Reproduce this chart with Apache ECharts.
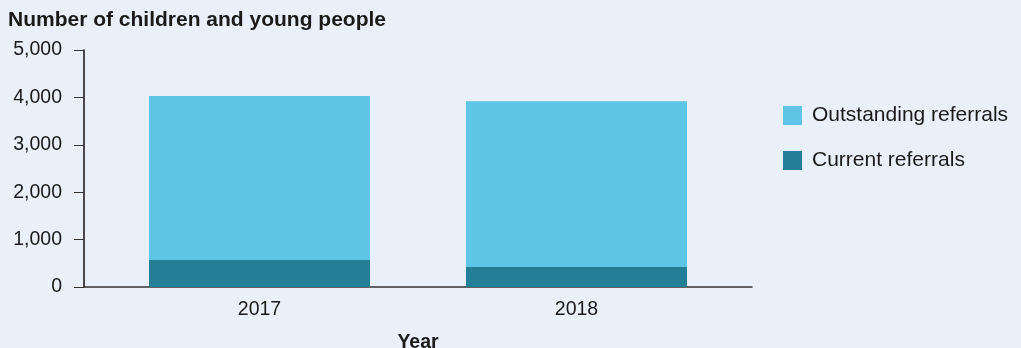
<!DOCTYPE html>
<html>
<head>
<meta charset="utf-8">
<script src="https://cdn.jsdelivr.net/npm/echarts@6/dist/echarts.min.js"></script>
<style>
  html, body { margin: 0; padding: 0; background: #E9F0F9; }
  #chart { width: 1021px; height: 348px; }
</style>
</head>
<body>
<div id="chart"></div>
<script>
  var YEARS = ["2017", "2018"];
  var CURRENT = [570, 420];
  var OUTSTANDING = [3460, 3500];
  var Y_TICKS = [0, 1000, 2000, 3000, 4000, 5000];

  var FONT = "Liberation Sans, Arial, sans-serif";
  var TXT = "#1a1a1a";

  var chart = echarts.init(document.getElementById("chart"), null, { renderer: "canvas" });

  chart.setOption({
    backgroundColor: "#E9F0F9",
    animation: false,
    title: {
      text: "Number of children and young people",
      left: 3, top: 5,
      textStyle: { fontFamily: FONT, fontSize: 21, fontWeight: "bold", color: TXT }
    },
    legend: {
      orient: "vertical", left: 778, top: 100,
      icon: "rect", itemWidth: 19, itemHeight: 19, itemGap: 24,
      data: ["Outstanding referrals", "Current referrals"],
      textStyle: { fontFamily: FONT, fontSize: 21, color: TXT, padding: [0, 0, 0, 5] }
    },
    // grid 0: axis frame only, grid 1: the bars
    grid: [
      { left: 84, right: 269, top: 50, bottom: 61, outerBoundsMode: "none" },
      { left: 101, right: 286, top: 50, bottom: 61, outerBoundsMode: "none" }
    ],
    xAxis: [
      {
        gridIndex: 0, type: "category", data: YEARS,
        axisLine: { lineStyle: { color: "#333", width: 1.5 } },
        axisTick: { show: false }, axisLabel: { show: false }
      },
      {
        gridIndex: 1, type: "category", data: YEARS,
        axisLine: { show: false }, axisTick: { show: false },
        axisLabel: { fontFamily: FONT, fontSize: 19.5, color: TXT, margin: 13 },
        name: "Year", nameLocation: "middle", nameGap: 46,
        nameTextStyle: { fontFamily: FONT, fontSize: 19.5, fontWeight: "bold", color: TXT }
      }
    ],
    yAxis: [
      {
        gridIndex: 0, type: "value", min: Y_TICKS[0], max: Y_TICKS[Y_TICKS.length - 1], interval: 1000,
        axisLine: { show: true, lineStyle: { color: "#111", width: 1.5 } },
        axisTick: { show: true, length: 10, lineStyle: { color: "#333", width: 1 } },
        axisLabel: {
          fontFamily: FONT, fontSize: 19.5, color: TXT, margin: 22,
          formatter: function (v) { return v.toLocaleString("en-US"); }
        },
        splitLine: { show: false }
      },
      {
        gridIndex: 1, type: "value", min: Y_TICKS[0], max: Y_TICKS[Y_TICKS.length - 1], interval: 1000,
        show: false, splitLine: { show: false }
      }
    ],
    series: [
      {
        name: "Current referrals", type: "bar", stack: "total",
        xAxisIndex: 1, yAxisIndex: 1, barWidth: 221,
        itemStyle: { color: "#237F97" }, data: CURRENT
      },
      {
        name: "Outstanding referrals", type: "bar", stack: "total",
        xAxisIndex: 1, yAxisIndex: 1, barWidth: 221,
        itemStyle: { color: "#5EC5E6" }, data: OUTSTANDING
      }
    ]
  });
</script>
</body>
</html>
